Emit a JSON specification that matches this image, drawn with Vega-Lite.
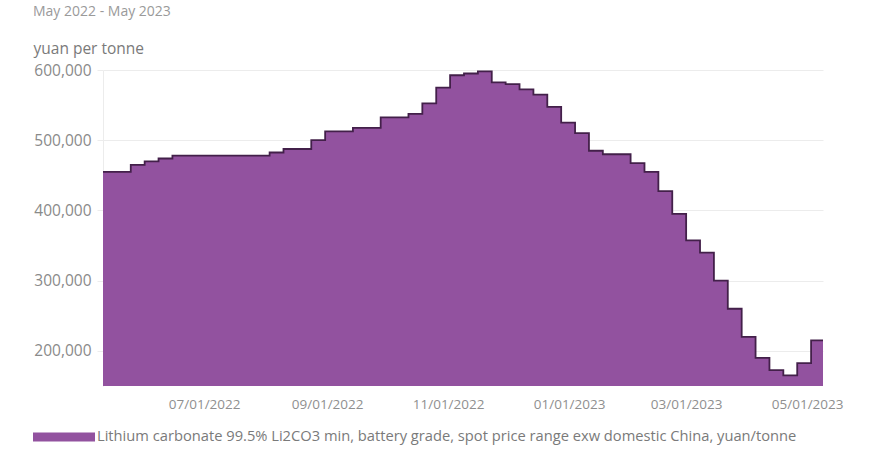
{
  "$schema": "https://vega.github.io/schema/vega-lite/v6.json",
  "width": 720,
  "height": 316,
  "autosize": {"type": "none"},
  "padding": {"left": 103, "top": 70, "right": 57, "bottom": 67},
  "background": "white",
  "title": {"text": "May 2022 - May 2023", "anchor": "start", "frame": "bounds", "fontSize": 14, "fontWeight": "normal", "color": "#9a9a9a", "font": "Open Sans", "offset": 22},
  "config": {"view": {"stroke": null}, "font": "Open Sans"},
  "data": {"values": [
    {"date": "2022-05-11", "price": 455000},
    {"date": "2022-05-18", "price": 455000},
    {"date": "2022-05-25", "price": 465000},
    {"date": "2022-06-01", "price": 470000},
    {"date": "2022-06-08", "price": 474000},
    {"date": "2022-06-15", "price": 478000},
    {"date": "2022-06-22", "price": 478000},
    {"date": "2022-06-29", "price": 478000},
    {"date": "2022-07-06", "price": 478000},
    {"date": "2022-07-13", "price": 478000},
    {"date": "2022-07-20", "price": 478000},
    {"date": "2022-07-27", "price": 478000},
    {"date": "2022-08-03", "price": 482500},
    {"date": "2022-08-10", "price": 487500},
    {"date": "2022-08-17", "price": 487500},
    {"date": "2022-08-24", "price": 500000},
    {"date": "2022-08-31", "price": 512500},
    {"date": "2022-09-07", "price": 512500},
    {"date": "2022-09-14", "price": 517500},
    {"date": "2022-09-21", "price": 517500},
    {"date": "2022-09-28", "price": 532500},
    {"date": "2022-10-05", "price": 532500},
    {"date": "2022-10-12", "price": 537500},
    {"date": "2022-10-19", "price": 552500},
    {"date": "2022-10-26", "price": 575000},
    {"date": "2022-11-02", "price": 592500},
    {"date": "2022-11-09", "price": 595000},
    {"date": "2022-11-16", "price": 598000},
    {"date": "2022-11-23", "price": 582500},
    {"date": "2022-11-30", "price": 580000},
    {"date": "2022-12-07", "price": 572500},
    {"date": "2022-12-14", "price": 565000},
    {"date": "2022-12-21", "price": 547500},
    {"date": "2022-12-28", "price": 525000},
    {"date": "2023-01-04", "price": 510000},
    {"date": "2023-01-11", "price": 485000},
    {"date": "2023-01-18", "price": 480000},
    {"date": "2023-01-25", "price": 480000},
    {"date": "2023-02-01", "price": 467500},
    {"date": "2023-02-08", "price": 455000},
    {"date": "2023-02-15", "price": 427500},
    {"date": "2023-02-22", "price": 395000},
    {"date": "2023-03-01", "price": 357500},
    {"date": "2023-03-08", "price": 340000},
    {"date": "2023-03-15", "price": 300000},
    {"date": "2023-03-22", "price": 260000},
    {"date": "2023-03-29", "price": 220000},
    {"date": "2023-04-05", "price": 190000},
    {"date": "2023-04-12", "price": 172500},
    {"date": "2023-04-19", "price": 165000},
    {"date": "2023-04-26", "price": 182500},
    {"date": "2023-05-03", "price": 215000},
    {"date": "2023-05-09", "price": 215000}
  ]},
  "encoding": {
    "x": {
      "field": "date", "type": "temporal",
      "scale": {"type": "utc", "nice": false},
      "axis": {
        "title": null, "format": "%m/%d/%Y",
        "tickCount": {"interval": "month", "step": 2},
        "grid": false, "ticks": false, "domain": false,
        "labelFontSize": 13.5, "labelColor": "#8f8f8f",
        "labelPadding": 18, "labelBaseline": "middle",
        "labelFlush": false, "labelOverlap": false
      }
    },
    "y": {
      "field": "price", "type": "quantitative",
      "scale": {"domain": [150000, 600000], "nice": false, "zero": false},
      "axis": {
        "values": [200000, 300000, 400000, 500000, 600000],
        "format": ",.0f",
        "grid": true, "gridColor": "#ececec",
        "ticks": true, "tickColor": "#ececec", "tickSize": 6,
        "domain": true, "domainColor": "#ececec",
        "labelPadding": 6, "labelFontSize": 15.5, "labelColor": "#8a8a8a",
        "title": "yuan per tonne", "titleAngle": 0, "titleAlign": "left",
        "titleBaseline": "middle", "titleX": -70, "titleY": -22,
        "titleFontSize": 15.5, "titleFontWeight": "normal", "titleColor": "#7a7a7a"
      }
    }
  },
  "layer": [
    {
      "mark": {"type": "area", "interpolate": "step-after", "opacity": 1, "clip": true},
      "encoding": {
        "y2": {"datum": 150000},
        "color": {
          "datum": "Lithium carbonate 99.5% Li2CO3 min, battery grade, spot price range exw domestic China, yuan/tonne",
          "scale": {"range": ["#92529f"]},
          "legend": {
            "orient": "none", "legendX": -70, "legendY": 336,
            "title": null,
            "symbolType": "M-1,-0.145L1,-0.145L1,0.145L-1,0.145Z",
            "symbolSize": 3844, "symbolStrokeWidth": 0,
            "labelFontSize": 14.7, "labelColor": "#7a7a7a",
            "labelOffset": 2, "labelLimit": 0, "padding": 0,
            "encode": {"symbols": {"update": {"fill": {"value": "#6b2a89"}, "opacity": {"value": 1}}}}
          }
        }
      }
    },
    {
      "mark": {"type": "line", "interpolate": "step-after", "color": "#43204a", "strokeWidth": 1.8},
      "encoding": {}
    }
  ]
}
